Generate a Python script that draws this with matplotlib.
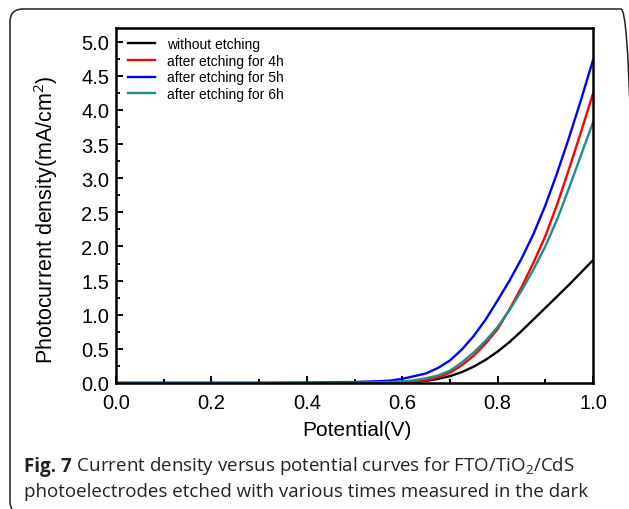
import numpy as np
import matplotlib.pyplot as plt
from matplotlib.patches import FancyBboxPatch
from matplotlib.ticker import MultipleLocator

plt.rcParams['font.family'] = ['Liberation Sans', 'DejaVu Sans']
plt.rcParams['mathtext.fontset'] = 'custom'
plt.rcParams['mathtext.rm'] = 'Open Sans'
plt.rcParams['mathtext.it'] = 'Open Sans:italic'

# potential (V) and photocurrent density (mA/cm2)
potential = [0.0, 0.1, 0.2, 0.3, 0.4, 0.45, 0.5, 0.55, 0.575, 0.6, 0.625, 0.65,
             0.675, 0.7, 0.725, 0.75, 0.775, 0.8, 0.825, 0.85, 0.875, 0.9,
             0.925, 0.95, 0.975, 1.0]
no_etch = [0, 0, 0, 0, 0, 0, 0.002, 0.005, 0.008, 0.012, 0.02, 0.03, 0.06, 0.10,
           0.16, 0.24, 0.34, 0.46, 0.60, 0.76, 0.93, 1.10, 1.27, 1.44, 1.62, 1.80]
etch_4h = [0, 0, 0, 0, 0, 0, 0.002, 0.005, 0.008, 0.012, 0.02, 0.04, 0.08, 0.15,
           0.26, 0.40, 0.58, 0.79, 1.08, 1.40, 1.76, 2.15, 2.62, 3.14, 3.68, 4.24]
etch_5h = [0, 0, 0, 0, 0.005, 0.01, 0.015, 0.025, 0.035, 0.06, 0.10, 0.14, 0.22,
           0.33, 0.49, 0.69, 0.93, 1.21, 1.50, 1.82, 2.18, 2.60, 3.08, 3.60,
           4.15, 4.73]
etch_6h = [0, 0, 0, 0, 0, 0.003, 0.006, 0.01, 0.015, 0.02, 0.04, 0.07, 0.11, 0.18,
           0.30, 0.45, 0.62, 0.82, 1.07, 1.35, 1.66, 2.00, 2.40, 2.86, 3.34, 3.82]

labels = ['without etching', 'after etching for 4h',
          'after etching for 5h', 'after etching for 6h']
colors = ['black', '#ff0000', '#0000ff', '#1f8f8a']

fig = plt.figure(figsize=(6.29, 5.10), dpi=100)

# rounded frame around figure + caption
frame = FancyBboxPatch((0.10, -0.05), 6.24, 5.05,
                       boxstyle='round,pad=0,rounding_size=0.13',
                       transform=fig.dpi_scale_trans, fill=False,
                       edgecolor='#222222', linewidth=1.1)
fig.add_artist(frame)

ax = fig.add_axes([116/629, 1 - 384/510, 477/629, 355/510])
for y, lab, c in zip([no_etch, etch_4h, etch_5h, etch_6h], labels, colors):
    ax.plot(potential, y, color=c, lw=1.7, label=lab)

ax.set_xlim(0, 1.0)
ax.set_ylim(0, 5.2)
ax.xaxis.set_major_locator(MultipleLocator(0.2))
ax.xaxis.set_minor_locator(MultipleLocator(0.1))
ax.yaxis.set_major_locator(MultipleLocator(0.5))
ax.yaxis.set_minor_locator(MultipleLocator(0.25))
ax.xaxis.set_major_formatter(lambda v, p: f'{v:.1f}')
ax.yaxis.set_major_formatter(lambda v, p: f'{v:.1f}')
ax.tick_params(which='both', direction='in', width=1.4, labelsize=14.5)
ax.tick_params(which='major', length=5)
ax.tick_params(which='minor', length=2.8)
ax.tick_params(axis='x', pad=7)
ax.tick_params(axis='y', pad=5)
for s in ax.spines.values():
    s.set_linewidth(1.8)

ax.set_xlabel('Potential(V)', fontsize=15)
ax.set_ylabel('Photocurrent density(mA/cm$^2$)', fontsize=15.5)
ax.xaxis.set_label_coords(0.505, -0.105)
ax.yaxis.set_label_coords(-0.118, 0.462)

ax.legend(loc='upper left', bbox_to_anchor=(0.025, 0.975), frameon=False,
          fontsize=10, handlelength=1.95, handletextpad=0.85,
          labelspacing=0.2, borderaxespad=0, borderpad=0)

# caption
cap1 = fig.text(24/629, 1 - 472/510, 'Fig. 7', fontsize=13.5, fontweight='bold',
                family='Open Sans', va='baseline', color='#222222')
ax.annotate(r' Current density versus potential curves for FTO/TiO$_2$/CdS',
            xy=(1, 0), xycoords=cap1, va='bottom', ha='left',
            fontsize=13.5, family='Open Sans', color='#222222',
            annotation_clip=False)
fig.text(24/629, 1 - 497/510,
         'photoelectrodes etched with various times measured in the dark',
         fontsize=13.5, family='Open Sans', va='baseline', color='#222222')

fig.savefig('out.png', dpi=100)
